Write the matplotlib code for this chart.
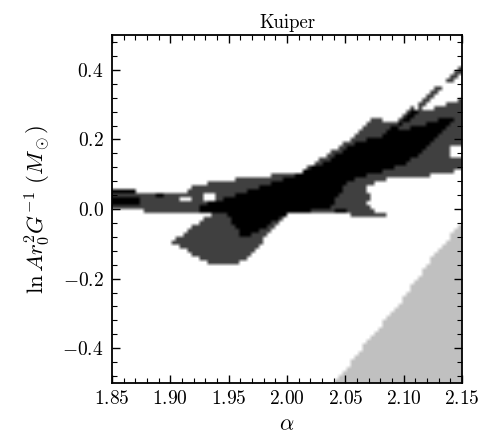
import numpy as np
import matplotlib
matplotlib.use("Agg")
import matplotlib.pyplot as plt
from matplotlib.path import Path
from matplotlib.ticker import MultipleLocator

# region outlines, (alpha, lnA) pairs
sigma2_outline = [
    (1.850, 0.057), (1.871, 0.046), (1.913, 0.046), (1.917, 0.063), (1.930, 0.072),
    (1.938, 0.083), (1.955, 0.083), (1.960, 0.095), (1.985, 0.095), (1.990, 0.106),
    (2.011, 0.106), (2.015, 0.112), (2.054, 0.198), (2.074, 0.261), (2.080, 0.264),
    (2.084, 0.250), (2.093, 0.253), (2.108, 0.293), (2.114, 0.279), (2.131, 0.293),
    (2.142, 0.307), (2.150, 0.322), (2.150, 0.112), (2.131, 0.100), (2.114, 0.092),
    (2.077, 0.083), (2.069, 0.063), (2.067, 0.055), (2.075, 0.034), (2.069, 0.020),
    (2.071, -0.003), (2.086, -0.017), (2.069, -0.023), (2.039, -0.009), (2.003, -0.009),
    (1.966, -0.138), (1.958, -0.161), (1.938, -0.161), (1.930, -0.152), (1.901, -0.095),
    (1.934, -0.017), (1.878, -0.012), (1.876, 0.006), (1.871, 0.000), (1.850, -0.003),
]
sigma1_outline = [
    (1.923, 0.011), (1.945, 0.026), (1.962, 0.046), (2.014, 0.106), (2.039, 0.147),
    (2.054, 0.184), (2.077, 0.207), (2.088, 0.218), (2.114, 0.241), (2.140, 0.264),
    (2.144, 0.256), (2.137, 0.236), (2.114, 0.161), (2.103, 0.132), (2.088, 0.112),
    (2.063, 0.092), (2.050, 0.069), (2.041, 0.026), (2.037, -0.003), (2.003, -0.009),
    (1.962, -0.089), (1.949, -0.012), (1.925, -0.012),
]
sigma1_bits = [
    [(1.850, 0.043), (1.872, 0.043), (1.872, 0.056), (1.850, 0.056)],
    [(1.850, 0.017), (1.874, 0.017), (1.874, 0.032), (1.850, 0.032)],
    [(1.886, 0.039), (1.895, 0.039), (1.895, 0.048), (1.886, 0.048)],
    [(2.041, -0.013), (2.052, -0.013), (2.052, -0.002), (2.041, -0.002)],
]
holes = [
    [(1.909, 0.028), (1.918, 0.028), (1.918, 0.038), (1.909, 0.038)],
    [(1.927, 0.028), (1.937, 0.028), (1.937, 0.047), (1.927, 0.047)],
    [(2.141, 0.145), (2.151, 0.145), (2.151, 0.185), (2.141, 0.185)],
]
# thin streaks: (start, end, level)
streaks = [
    ((2.088, 0.218), (2.111, 0.284), 3),
    ((2.114, 0.290), (2.131, 0.348), 2),
    ((2.137, 0.365), (2.150, 0.399), 2),
]
excluded_edge = [
    (2.041, -0.500), (2.065, -0.397), (2.094, -0.282), (2.123, -0.147), (2.150, -0.037),
]

title = "Kuiper"
xlim = (1.85, 2.15)
ylim = (-0.5, 0.5)

plt.rcParams.update({
    "font.family": "serif",
    "font.serif": ["cmr10"],
    "mathtext.fontset": "cm",
    "axes.formatter.use_mathtext": True,
    "axes.unicode_minus": True,
})

nx, ny = 88, 88
xc = xlim[0] + (np.arange(nx) + 0.5) * (xlim[1] - xlim[0]) / nx
yc = ylim[0] + (np.arange(ny) + 0.5) * (ylim[1] - ylim[0]) / ny
X, Y = np.meshgrid(xc, yc)
pts = np.column_stack([X.ravel(), Y.ravel()])


def fill(grid, poly, level):
    m = Path(poly).contains_points(pts).reshape(grid.shape)
    grid[m] = level


level = np.zeros((ny, nx), dtype=int)
fill(level, excluded_edge + [(2.16, -0.037), (2.16, -0.51), (2.041, -0.51)], 1)
fill(level, sigma2_outline, 2)
for h in holes:
    fill(level, h, 0)
fill(level, sigma1_outline, 3)
for b in sigma1_bits:
    fill(level, b, 3)
for (x0, y0), (x1, y1), lv in streaks:
    for t in np.linspace(0, 1, 40):
        ix = int((x0 + t * (x1 - x0) - xlim[0]) / (xlim[1] - xlim[0]) * nx)
        iy = int((y0 + t * (y1 - y0) - ylim[0]) / (ylim[1] - ylim[0]) * ny)
        level[min(iy, ny - 1), min(ix, nx - 1)] = lv

shade = np.array([1.0, 0.75, 0.25, 0.0])[level]

fig = plt.figure(figsize=(4.83, 4.38), dpi=100)
ax = fig.add_axes([0.232, 0.1256, 0.7245, 0.7944])
ax.imshow(shade, cmap="gray", vmin=0, vmax=1, origin="lower",
          extent=[xlim[0], xlim[1], ylim[0], ylim[1]], aspect="auto",
          interpolation="bilinear")
ax.set_xlim(*xlim)
ax.set_ylim(*ylim)
ax.xaxis.set_major_locator(MultipleLocator(0.05))
ax.xaxis.set_minor_locator(MultipleLocator(0.01))
ax.yaxis.set_major_locator(MultipleLocator(0.2))
ax.yaxis.set_minor_locator(MultipleLocator(0.04))
ax.tick_params(which="both", direction="in", top=True, right=True, labelsize=14)
ax.tick_params(which="major", length=6, width=1.0)
ax.tick_params(axis="y", which="major", pad=6)
ax.tick_params(axis="x", which="major", pad=5)
ax.tick_params(which="minor", length=3.5, width=0.8)
for s in ax.spines.values():
    s.set_linewidth(1.3)
ax.set_xlabel(r"$\alpha$", fontsize=16, labelpad=5)
ax.set_ylabel(r"$\ln A r_0^2 G^{-1}\ (M_\odot)$", fontsize=16.5, labelpad=7)
ax.set_title(title, fontsize=13.5, pad=5)

fig.savefig("out.png", dpi=100)
